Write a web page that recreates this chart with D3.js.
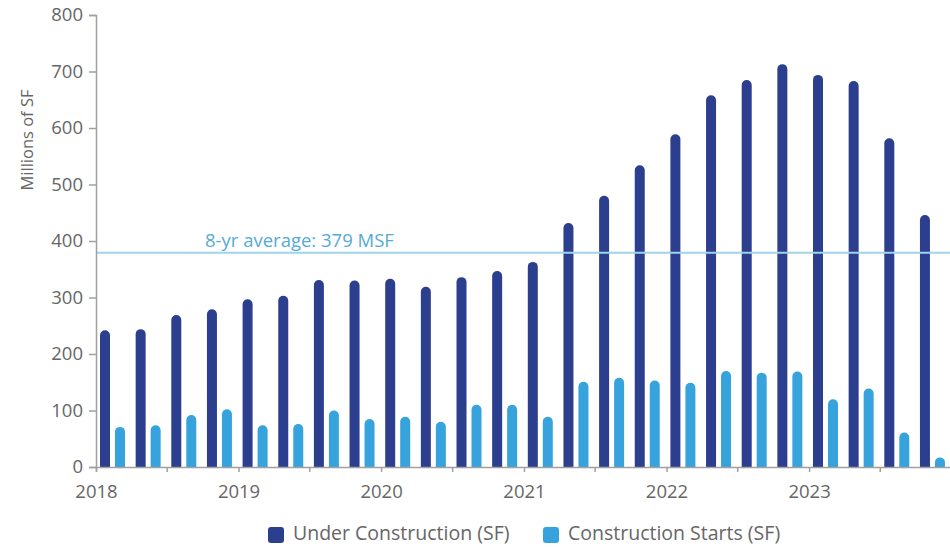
<!DOCTYPE html>
<html>
<head>
<meta charset="utf-8">
<script src="https://cdn.jsdelivr.net/npm/d3@7"></script>
<style>
  html, body { margin: 0; padding: 0; background: #fff; }
  svg { display: block; font-family: "Open Sans", "Noto Sans", sans-serif; }
</style>
</head>
<body>
<svg id="chart" width="950" height="547"></svg>
<script>
// Quarterly industrial pipeline, millions of square feet
const quarters = [
  "2018Q1","2018Q2","2018Q3","2018Q4",
  "2019Q1","2019Q2","2019Q3","2019Q4",
  "2020Q1","2020Q2","2020Q3","2020Q4",
  "2021Q1","2021Q2","2021Q3","2021Q4",
  "2022Q1","2022Q2","2022Q3","2022Q4",
  "2023Q1","2023Q2","2023Q3","2023Q4"
];
const underConstruction = [
  242, 244, 269, 279, 297, 303, 331, 330, 333, 319, 336, 347,
  363, 432, 480, 534, 589, 658, 685, 713, 694, 683, 582, 446
];
const constructionStarts = [
  71, 74, 92, 102, 74, 76, 100, 85, 89, 80, 110, 110,
  89, 151, 158, 153, 149, 170, 167, 169, 120, 139, 61, 17
];
const seriesNames = ["Under Construction (SF)", "Construction Starts (SF)"];
const seriesColors = ["#2c3e8e", "#37a3dc"];
const yTicks = [0, 100, 200, 300, 400, 500, 600, 700, 800];
const yearLabels = ["2018", "2019", "2020", "2021", "2022", "2023"];
const averageValue = 379;
const averageLabel = "8-yr average: 379 MSF";

const svg = d3.select("#chart");
const width = 950;
const plotLeft = 96, plotRight = 951.6, plotTop = 15, plotBottom = 467;
const axisGrey = "#a0a0a0", textGrey = "#666666";

const y = d3.scaleLinear().domain([0, 800]).range([plotBottom, plotTop]);

// Time axis across six years; bars sit in quarterly bands on the same range
const xTime = d3.scaleTime()
  .domain([new Date(2018, 0, 1), new Date(2024, 0, 1)])
  .range([plotLeft, plotRight]);
const xBand = d3.scaleBand().domain(quarters).range([plotLeft, plotRight]).padding(0);
const step = xBand.bandwidth();
const xInner = d3.scaleBand().domain([0, 1])
  .range([step * 4 / 35.65, step * 29 / 35.65])
  .paddingInner(1 / 3).paddingOuter(0);

// bar with a rounded top
function barPath(x0, w, yTop, yBase) {
  const r = Math.min(w / 2, (yBase - yTop));
  return `M${x0},${yBase}V${yTop + r}A${r},${r} 0 0 1 ${x0 + r},${yTop}` +
         `H${x0 + w - r}A${r},${r} 0 0 1 ${x0 + w},${yTop + r}V${yBase}Z`;
}

const series = [underConstruction, constructionStarts];
series.forEach((vals, si) => {
  svg.append("g").selectAll("path")
    .data(quarters.map((q, i) => ({ q, v: vals[i] })))
    .join("path")
    .attr("d", d => barPath(xBand(d.q) + xInner(si), xInner.bandwidth(), y(d.v), y(0)))
    .attr("fill", seriesColors[si]);
});

// average reference line and its label
svg.append("line")
  .attr("x1", plotLeft).attr("x2", width)
  .attr("y1", y(averageValue)).attr("y2", y(averageValue))
  .attr("stroke", "#9fd3ec").attr("stroke-width", 2);
svg.append("text")
  .attr("x", 205).attr("y", y(averageValue) - 6)
  .attr("fill", "#56aad6").attr("font-size", 18.5)
  .text(averageLabel);

// y axis
const yAxis = svg.append("g")
  .attr("transform", `translate(${plotLeft},0)`)
  .call(d3.axisLeft(y).tickValues(yTicks).tickSize(7).tickPadding(6));
yAxis.select(".domain").attr("stroke", axisGrey).attr("stroke-width", 1.5);
yAxis.selectAll(".tick line").attr("stroke", axisGrey).attr("stroke-width", 1.5);
yAxis.selectAll(".tick text").attr("fill", textGrey).attr("font-size", 18.5)
  .style("font-family", "'Open Sans', sans-serif");

// x axis: half-year ticks, year labels
const xAxis = svg.append("g")
  .attr("transform", `translate(0,${plotBottom})`)
  .call(d3.axisBottom(xTime)
    .ticks(d3.timeMonth.every(6))
    .tickSizeOuter(0)
    .tickSize(5).tickPadding(13)
    .tickFormat(d => {
      const yr = d3.timeFormat("%Y")(d);
      return d.getMonth() === 0 && yearLabels.includes(yr) ? yr : "";
    }));
xAxis.select(".domain").attr("stroke", axisGrey).attr("stroke-width", 1.5);
xAxis.selectAll(".tick line").attr("stroke", axisGrey).attr("stroke-width", 1.5);
xAxis.selectAll(".tick text").attr("fill", textGrey).attr("font-size", 18.5)
  .style("font-family", "'Open Sans', sans-serif");

// y axis title
svg.append("text")
  .attr("transform", `translate(33,140) rotate(-90)`)
  .attr("text-anchor", "middle")
  .attr("fill", textGrey).attr("font-size", 16.5)
  .text("Millions of SF");

// legend
const legendItems = [
  { x: 268, name: seriesNames[0], color: seriesColors[0] },
  { x: 543, name: seriesNames[1], color: seriesColors[1] }
];
const legend = svg.append("g");
legendItems.forEach(it => {
  legend.append("rect")
    .attr("x", it.x).attr("y", 527).attr("width", 16).attr("height", 16)
    .attr("rx", 3).attr("fill", it.color);
  legend.append("text")
    .attr("x", it.x + 25).attr("y", 540)
    .attr("fill", textGrey).attr("font-size", 19.5)
    .text(it.name);
});
</script>
</body>
</html>
